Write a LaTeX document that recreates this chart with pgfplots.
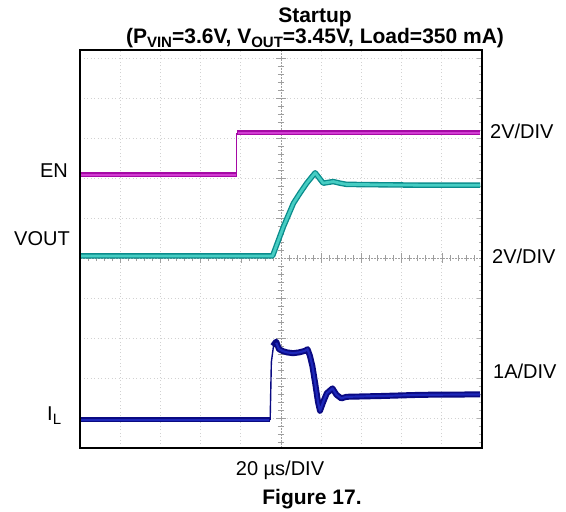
\documentclass[border=0pt]{standalone}
\usepackage{pgfplots}
\pgfplotsset{compat=1.18}
\usepackage{fontspec}
\setmainfont{Liberation Sans}
\definecolor{encd}{RGB}{165,10,165}
\definecolor{enc}{RGB}{210,60,210}
\definecolor{vocd}{RGB}{10,140,140}
\definecolor{voc}{RGB}{70,205,195}
\definecolor{ilcd}{RGB}{10,10,130}
\definecolor{ilc}{RGB}{30,40,185}
\newcommand{\reg}{\fontsize{20bp}{24bp}\selectfont}
\newcommand{\bld}{\fontsize{21bp}{24bp}\selectfont\bfseries}
\newcommand{\sbs}[1]{\raisebox{-0.35ex}{\fontsize{15bp}{16bp}\selectfont #1}}
\begin{document}
\begin{tikzpicture}[x=1bp,y=1bp]
\useasboundingbox (0,0) rectangle (566,512);
\begin{axis}[at={(80bp,64bp)}, anchor=south west, scale only axis,
  width=402bp, height=398bp, xmin=0, xmax=10, ymin=-4.75, ymax=5.2,
  axis line style={black, line width=1.6bp}, ticks=none, clip=true, axis on top]
% faint grid
\pgfplotsinvokeforeach{1,2,3,4,6,7,8,9}{\draw[gray!35, line width=0.7bp, dash pattern=on 1bp off 2.5bp] (axis cs:#1,-4.75) -- (axis cs:#1,5.2);}
\pgfplotsinvokeforeach{-4,-3,-2,-1,1,2,3,4,5}{\draw[gray!35, line width=0.7bp, dash pattern=on 1bp off 2.5bp] (axis cs:0,#1) -- (axis cs:10,#1);}
% centre cross with minor ticks
\draw[gray!75, line width=0.7bp, dash pattern=on 1.5bp off 1.5bp] (axis cs:5,-4.75) -- (axis cs:5,5.2);
\draw[gray!75, line width=0.7bp, dash pattern=on 1.5bp off 1.5bp] (axis cs:0,0) -- (axis cs:10,0);
\pgfplotsinvokeforeach{-4.6,-4.4,-4.2,-3.8,-3.6,-3.4,-3.2,-2.8,-2.6,-2.4,-2.2,-1.8,-1.6,-1.4,-1.2,-0.8,-0.6,-0.4,-0.2,0.2,0.4,0.6,0.8,1.2,1.4,1.6,1.8,2.2,2.4,2.6,2.8,3.2,3.4,3.6,3.8,4.2,4.4,4.6,4.8,5.0}{
  \draw[gray!75, line width=0.6bp] (axis cs:4.92,#1) -- (axis cs:5.08,#1);
  \draw[gray!60, line width=0.6bp] (axis cs:9.92,#1) -- (axis cs:10,#1);}
\pgfplotsinvokeforeach{-4,-3,-2,-1,1,2,3,4,5}{
  \draw[gray!75, line width=0.6bp] (axis cs:4.88,#1) -- (axis cs:5.12,#1);
  \draw[gray!60, line width=0.6bp] (axis cs:9.88,#1) -- (axis cs:10,#1);}
\pgfplotsinvokeforeach{0.2,0.4,0.6,0.8,1.2,1.4,1.6,1.8,2.2,2.4,2.6,2.8,3.2,3.4,3.6,3.8,4.2,4.4,4.6,4.8,5.2,5.4,5.6,5.8,6.2,6.4,6.6,6.8,7.2,7.4,7.6,7.8,8.2,8.4,8.6,8.8,9.2,9.4,9.6,9.8}{
  \draw[gray!75, line width=0.6bp] (axis cs:#1,-0.08) -- (axis cs:#1,0.08);}
\pgfplotsinvokeforeach{1,2,3,4,6,7,8,9}{
  \draw[gray!75, line width=0.6bp] (axis cs:#1,-0.12) -- (axis cs:#1,0.12);}
% EN
\addplot[encd, line width=5bp] coordinates {(0.02,2.075)(3.9,2.075)};
\addplot[encd, line width=1.2bp] coordinates {(3.9,2.075)(3.9,3.125)};
\addplot[encd, line width=5bp] coordinates {(3.9,3.125)(9.95,3.125)};
\addplot[enc, line width=2.4bp] coordinates {(0.02,2.075)(3.88,2.075)};
\addplot[enc, line width=2.4bp] coordinates {(3.92,3.125)(9.95,3.125)};
% VOUT
\addplot[vocd, line width=5.5bp, line join=round] coordinates {
(0.02,0.05)(4.79,0.05)(5.06,0.78)(5.31,1.37)(5.47,1.62)(5.64,1.87)(5.85,2.13)
(6.05,1.87)(6.30,1.91)(6.47,1.87)(6.63,1.84)(7.5,1.83)(8.5,1.82)(9.95,1.82)};
\addplot[voc, line width=2.8bp, line join=round] coordinates {
(0.02,0.05)(4.79,0.05)(5.06,0.78)(5.31,1.37)(5.47,1.62)(5.64,1.87)(5.85,2.13)
(6.05,1.87)(6.30,1.91)(6.47,1.87)(6.63,1.84)(7.5,1.83)(8.5,1.82)(9.95,1.82)};
% IL
\addplot[ilcd, line width=5bp] coordinates {(0.02,-4.05)(4.73,-4.05)};
\addplot[ilcd, line width=1.4bp] coordinates {(4.73,-4.05)(4.76,-2.6)(4.82,-2.15)};
\addplot[ilcd, line width=6bp, line join=round] coordinates {
(4.80,-2.2)(4.88,-2.09)(4.95,-2.28)(5.05,-2.33)(5.15,-2.36)(5.3,-2.38)(5.45,-2.36)
(5.6,-2.32)(5.66,-2.28)(5.72,-2.45)(5.78,-2.7)(5.85,-3.13)(5.92,-3.6)(5.97,-3.82)
(6.05,-3.6)(6.14,-3.38)(6.28,-3.26)(6.38,-3.42)(6.5,-3.51)(6.63,-3.47)(7.5,-3.45)
(8.5,-3.42)(9.95,-3.41)};
\addplot[ilc, line width=2.2bp, line join=round] coordinates {
(0.02,-4.05)(4.70,-4.05)};
\addplot[ilc, line width=2.2bp, line join=round] coordinates {
(4.88,-2.12)(4.95,-2.28)(5.05,-2.33)(5.15,-2.36)(5.3,-2.38)(5.45,-2.36)
(5.6,-2.32)(5.66,-2.28)(5.72,-2.45)(5.78,-2.7)(5.85,-3.13)(5.92,-3.6)(5.97,-3.82)
(6.05,-3.6)(6.14,-3.38)(6.28,-3.26)(6.38,-3.42)(6.5,-3.51)(6.63,-3.47)(7.5,-3.45)
(8.5,-3.42)(9.95,-3.41)};
\end{axis}
% titles and labels
\node[anchor=base, inner sep=0] at (315,489) {\bld Startup};
\node[anchor=base, inner sep=0] at (315,468) {\bld (P\sbs{VIN}=3.6V, V\sbs{OUT}=3.45V, Load=350 mA)};
\node[anchor=base east, inner sep=0] at (68,334) {\reg EN};
\node[anchor=base east, inner sep=0] at (70,266) {\reg VOUT};
\node[anchor=base west, inner sep=0] at (47,91) {\reg I\sbs{L}};
\node[anchor=base west, inner sep=0] at (490,373) {\reg 2V/DIV};
\node[anchor=base west, inner sep=0] at (492,248) {\reg 2V/DIV};
\node[anchor=base west, inner sep=0] at (493,133) {\reg 1A/DIV};
\node[anchor=base, inner sep=0] at (280,36) {\reg 20 µs/DIV};
\node[anchor=base, inner sep=0] at (312,7) {\bld Figure 17.};
\end{tikzpicture}
\end{document}
